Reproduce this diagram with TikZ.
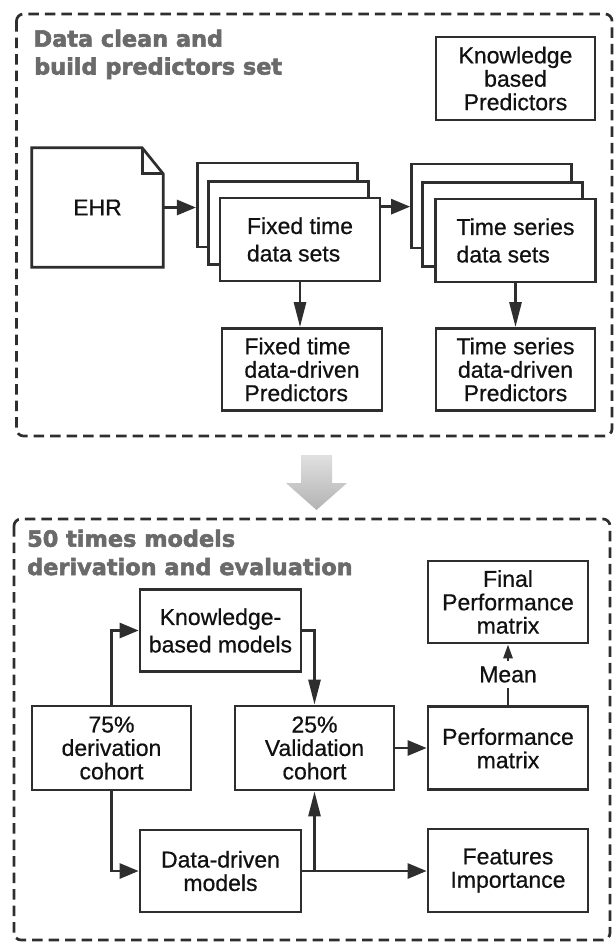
\documentclass[tikz,border=0pt]{standalone}
\usepackage{fontspec}
\setmainfont{Liberation Sans}[FakeBold=0.6]
\newfontfamily\titlefont{DejaVu Sans Bold}[FakeBold=2.5]
\usetikzlibrary{arrows.meta,calc}
\definecolor{ink}{HTML}{2E2E2E}
\definecolor{txt}{HTML}{111111}
\definecolor{ttl}{HTML}{6A6A6A}
\begin{document}
\begin{tikzpicture}[x=1pt,y=-1pt,
  box/.style={draw=ink,line width=2.7pt,fill=white,minimum width=160pt,minimum height=83pt,
    inner sep=0pt,align=center,text=txt,font=\fontsize{23}{23.4}\selectfont},
  wide/.style={font=\fontsize{23}{27.5}\selectfont},
  plain/.style={inner sep=0pt,text=txt,font=\fontsize{23}{23.4}\selectfont},
  docline/.style={draw=ink,line width=2.7pt,fill=white,line join=miter},
  conn/.style={draw=ink,line width=2.7pt},
  harrow/.style={conn,-{Triangle[length=19pt,width=15pt]}},
  varrow/.style={conn,-{Triangle[length=25pt,width=12pt]}},
  smallarrow/.style={conn,-{Triangle[length=14pt,width=9pt]}},
  groupbox/.style={draw=ink,line width=2.7pt,dash pattern=on 10.5pt off 6pt,rounded corners=7pt},
  grouptitle/.style={anchor=base west,inner sep=0pt,text=ttl,font=\titlefont\fontsize{22.4}{28}\selectfont},
]
\useasboundingbox (0,0) rectangle (615,943);
\fill[white] (0,0) rectangle (615,943);

% group frames
\draw[groupbox] (16.5,14) rectangle (612,436);
\draw[groupbox] (14,519) rectangle (610,940);

\node[grouptitle] (t1a) at (33.4,46.7) {Data clean and};
\node[grouptitle] (t1b) at (34,74.5) {build predictors set};
\node[grouptitle] (t2a) at (27,546.7) {50 times models};
\node[grouptitle] (t2b) at (27,575) {derivation and evaluation};

% big gray arrow
\shade[top color=black!12,bottom color=black!30]
  (301,455) -- (332,455) -- (332,483) -- (347,483) -- (316.5,510) -- (286,483) -- (301,483) -- cycle;

% ---------- top part ----------
\node[box,minimum width=159pt] (kbp) at (515.5,78.5) {Knowledge\\based\\Predictors};

\node[plain,minimum width=131pt,minimum height=119pt] (ehr) at (97.5,207.5) {};
\draw[docline] (ehr.north west) -- ([xshift=-21pt]ehr.north east) -- ([yshift=-26pt]ehr.north east)
  -- (ehr.south east) -- (ehr.south west) -- cycle;
\draw[docline,fill=none] ([xshift=-21pt]ehr.north east) -- ([xshift=-21pt,yshift=-26pt]ehr.north east)
  -- ([yshift=-26pt]ehr.north east);
\node[plain] (ehrtext) at (ehr.center) {EHR};

\node[box,minimum height=84pt] (fixback) at (277.3,205) {};
\node[box] (fixmid) at (288.6,223) {};
\node[box,wide,align=left] (fixfront) at (300,239.5) {Fixed time\\data sets};

\node[box,minimum height=84pt] (timeback) at (491.5,206) {};
\node[box,minimum height=84pt] (timemid) at (502.5,224.5) {};
\node[box,wide,align=left] (timefront) at (515.5,240.5) {Time series\\data sets};

\node[box,minimum height=82pt,align=left] (fixdd) at (302,369.5) {Fixed time\\data-driven\\Predictors};
\node[box,minimum width=159pt,minimum height=82pt] (timedd) at (515.5,369.5) {Time series\\data-driven\\Predictors};

\draw[harrow] (ehr.east) -- (ehr.east -| fixback.west);
\draw[harrow] ([yshift=-10pt]fixfront.north east) -- ([yshift=-10pt]fixfront.north east -| timeback.west);
\draw[varrow] (fixfront.south) -- (fixfront.south |- fixdd.north);
\draw[varrow] (timefront.south) -- (timefront.south |- timedd.north);

% ---------- bottom part ----------
\node[box,wide,minimum width=161pt,minimum height=82pt] (kbm) at (220.5,630.5) {Knowledge-\\based models};
\node[box,minimum height=82pt] (final) at (508,602) {Final\\Performance\\matrix};
\node[box,minimum width=159pt,minimum height=84pt] (der) at (111.5,748) {75\%\\derivation\\cohort};
\node[box,minimum width=159pt,minimum height=84pt] (val) at (314.5,748) {25\%\\Validation\\cohort};
\node[box] (perf) at (508,748.3) {Performance\\matrix};
\node[box,minimum width=161pt,minimum height=82pt] (ddm) at (220.5,871) {Data-driven\\models};
\node[box] (feat) at (508,870.5) {Features\\Importance};
\node[plain,anchor=base,inner xsep=2pt,inner ysep=5pt] (mean) at (508,682.3) {Mean};

\draw[harrow] (der.north) |- (kbm.west);
\draw[varrow] (kbm.east) -| (val.north);
\draw[harrow] (der.south) |- (ddm.west);
\draw[harrow] (ddm.east) -- (ddm.east -| feat.west);
\draw[varrow] (ddm.east -| val.south) -- (val.south);
\draw[harrow] (val.east) -- (val.east -| perf.west);
\draw[conn] (perf.north) -- (mean.south);
\draw[smallarrow] (mean.north) -- (final.south);
\end{tikzpicture}
\end{document}
